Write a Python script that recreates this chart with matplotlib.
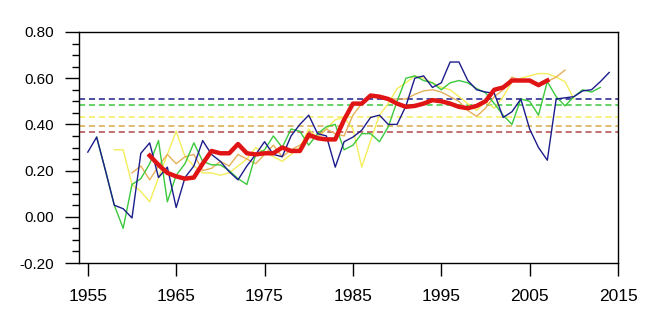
import matplotlib
matplotlib.use("Agg")
import matplotlib.pyplot as plt
from matplotlib.ticker import MultipleLocator

plt.rcParams['font.family'] = ['Liberation Sans', 'DejaVu Sans']

# yearly series
blue_years = list(range(1955, 2015))
blue_vals = [0.28, 0.345, 0.20, 0.05, 0.035, -0.005, 0.275, 0.32, 0.17, 0.215,
             0.04, 0.17, 0.22, 0.33, 0.27, 0.24, 0.195, 0.16, 0.22, 0.27,
             0.325, 0.27, 0.26, 0.35, 0.40, 0.44, 0.36, 0.35, 0.215, 0.325,
             0.345, 0.375, 0.43, 0.44, 0.40, 0.40, 0.48, 0.60, 0.61, 0.56,
             0.58, 0.67, 0.67, 0.59, 0.55, 0.54, 0.535, 0.43, 0.455, 0.51,
             0.38, 0.30, 0.245, 0.51, 0.515, 0.52, 0.545, 0.55, 0.585, 0.625]

green_years = list(range(1956, 2014))
green_vals = [0.345, 0.20, 0.05, -0.05, 0.14, 0.165, 0.23, 0.33, 0.065, 0.18,
              0.23, 0.32, 0.24, 0.225, 0.225, 0.20, 0.165, 0.14, 0.27, 0.29,
              0.35, 0.30, 0.38, 0.37, 0.31, 0.36, 0.39, 0.40, 0.29, 0.31,
              0.36, 0.36, 0.325, 0.39, 0.50, 0.60, 0.61, 0.59, 0.58, 0.55,
              0.58, 0.59, 0.58, 0.555, 0.537, 0.49, 0.44, 0.40, 0.51, 0.50,
              0.44, 0.585, 0.52, 0.48, 0.52, 0.55, 0.54, 0.56]

yellow_years = list(range(1958, 2011))
yellow_vals = [0.29, 0.29, 0.14, 0.11, 0.065, 0.17, 0.27, 0.37, 0.26, 0.22,
               0.19, 0.19, 0.18, 0.19, 0.22, 0.25, 0.30, 0.28, 0.26, 0.24,
               0.27, 0.30, 0.38, 0.34, 0.38, 0.42, 0.43, 0.38, 0.215, 0.33,
               0.44, 0.49, 0.555, 0.58, 0.61, 0.60, 0.58, 0.56, 0.55, 0.52,
               0.49, 0.46, 0.50, 0.47, 0.52, 0.585, 0.60, 0.61, 0.62, 0.62,
               0.605, 0.585, 0.51]

orange_years = list(range(1960, 2010))
orange_vals = [0.19, 0.22, 0.16, 0.22, 0.27, 0.23, 0.26, 0.27, 0.20, 0.21,
               0.24, 0.22, 0.27, 0.25, 0.23, 0.27, 0.31, 0.26, 0.29, 0.31,
               0.34, 0.35, 0.38, 0.36, 0.35, 0.44, 0.49, 0.52, 0.52, 0.51,
               0.51, 0.51, 0.53, 0.545, 0.55, 0.54, 0.52, 0.50, 0.46, 0.435,
               0.47, 0.52, 0.55, 0.605, 0.59, 0.585, 0.57, 0.585, 0.605, 0.635]

red_years = list(range(1962, 2008))
red_vals = [0.265, 0.225, 0.19, 0.175, 0.165, 0.17, 0.23, 0.285, 0.275, 0.275,
            0.315, 0.275, 0.27, 0.275, 0.275, 0.30, 0.285, 0.285, 0.355, 0.34,
            0.335, 0.335, 0.42, 0.49, 0.49, 0.525, 0.52, 0.51, 0.49, 0.476,
            0.48, 0.49, 0.505, 0.50, 0.49, 0.476, 0.47, 0.48, 0.50, 0.55,
            0.56, 0.59, 0.59, 0.59, 0.57, 0.59]

# long-term mean of each series
mean_blue = 0.512
mean_green = 0.483
mean_yellow = 0.432
mean_orange = 0.394
mean_red = 0.368

c_blue = '#1c1c8c'
c_green = '#3cc83c'
c_yellow = '#f4ee5a'
c_orange = '#e6b05a'
c_red = '#e01414'

fig = plt.figure(figsize=(6.5, 3.35), dpi=100)
ax = fig.add_axes([0.1215, 0.2149, 0.8293, 0.6896])

dash = (0, (4, 2.5))
ax.axhline(mean_blue, color=c_blue, lw=1.1, ls=dash)
ax.axhline(mean_green, color=c_green, lw=1.1, ls=dash)
ax.axhline(mean_yellow, color=c_yellow, lw=1.1, ls=dash)
ax.axhline(mean_orange, color='#d8a848', lw=1.1, ls=dash)
ax.axhline(mean_red, color='#b04848', lw=1.1, ls=dash)

ax.plot(yellow_years, yellow_vals, color=c_yellow, lw=1.0)
ax.plot(orange_years, orange_vals, color=c_orange, lw=1.0)
ax.plot(green_years, green_vals, color=c_green, lw=1.0)
ax.plot(blue_years, blue_vals, color=c_blue, lw=1.0)
ax.plot(red_years, red_vals, color=c_red, lw=3.2, solid_joinstyle='round')

ax.set_xlim(1954.0, 2015)
ax.set_ylim(-0.2, 0.8)
ax.set_xticks(range(1955, 2016, 10))
ax.yaxis.set_major_locator(MultipleLocator(0.2))
ax.yaxis.set_minor_locator(MultipleLocator(0.05))
ax.yaxis.set_major_formatter(lambda v, p: f"{v:.2f}")

ax.tick_params(axis='y', which='major', direction='out', length=10, width=1,
               labelsize=11, pad=8)
ax.tick_params(axis='y', which='minor', direction='out', length=4.7, width=1)
ax.tick_params(axis='x', which='major', direction='out', length=9.4, width=1,
               labelsize=12.5, pad=9)
ax.tick_params(top=False, right=False)
for s in ax.spines.values():
    s.set_linewidth(1.0)

fig.savefig('out.png', dpi=100)
